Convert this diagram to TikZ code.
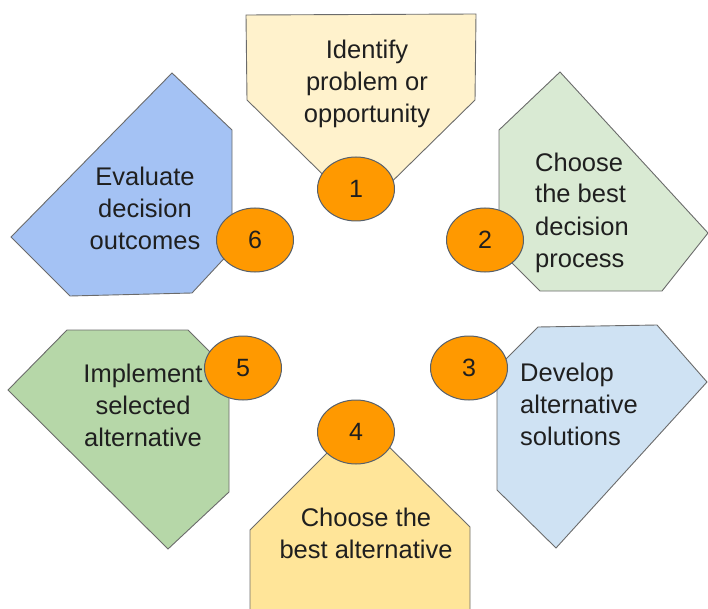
\documentclass[tikz,border=0pt]{standalone}
\usepackage{fontspec}
\setmainfont{Liberation Sans}
\usetikzlibrary{shapes.geometric}
\definecolor{cA}{HTML}{FFF2CC}
\definecolor{cB}{HTML}{D9EAD3}
\definecolor{cC}{HTML}{CFE2F3}
\definecolor{cD}{HTML}{FFE599}
\definecolor{cE}{HTML}{B6D7A8}
\definecolor{cF}{HTML}{A4C2F4}
\definecolor{orng}{HTML}{FF9900}
\definecolor{edge}{HTML}{6B6B6B}
\definecolor{cedge}{HTML}{56606C}
\definecolor{ink}{HTML}{1F1F1F}
\tikzset{
  panel/.style={draw=edge, line width=0.9pt, line join=miter},
  badge/.style={ellipse, draw=cedge, line width=1pt, fill=orng, minimum width=77pt, minimum height=64pt, inner sep=0pt, text=ink, font=\fontsize{25}{30}\selectfont},
  lbl/.style={inner sep=0pt, text=ink, font=\fontsize{25.5}{32}\selectfont}
}
\begin{document}
\begin{tikzpicture}[x=1pt,y=-1pt]
\useasboundingbox (0,0) rectangle (708,609);
% panels
\draw[panel, fill=cA] (246,15) -- (476,14) -- (475,100) -- (361,212) -- (247,100) -- cycle;
\draw[panel, fill=cB] (560,72) -- (708,233) -- (662,291) -- (540,291) -- (499,250) -- (499,130) -- cycle;
\draw[panel, fill=cC] (538,327) -- (657,325) -- (707,382) -- (556,548) -- (497,490) -- (497,368) -- cycle;
\draw[panel, fill=cD] (361,419) -- (470,527) -- (470,625) -- (250,625) -- (250,530) -- cycle;
\draw[panel, fill=cE] (67,330) -- (188,330) -- (229,371) -- (229,492) -- (168,549) -- (8,390) -- cycle;
\draw[panel, fill=cF] (172,73) -- (232,130) -- (232,250) -- (192,293) -- (70,296) -- (11,237) -- cycle;
% texts (base anchor = baseline of the last line)
\node[lbl, align=center, anchor=base] (t1) at (367,123) {Identify\\problem or\\opportunity};
\node[lbl, align=left, anchor=base west] (t2) at (535,267) {Choose\\the best\\decision\\process};
\node[lbl, align=left, anchor=base west] (t3) at (520,445) {Develop\\alternative\\solutions};
\node[lbl, align=center, anchor=base] (t4) at (366,558) {Choose the\\best alternative};
\node[lbl, align=center, anchor=base] (t5) at (143,446) {Implement\\selected\\alternative};
\node[lbl, align=center, anchor=base] (t6) at (145,250) {Evaluate\\decision\\outcomes};
% badges
\node[badge] (b1) at (356,189) {1};
\node[badge] (b2) at (485,240) {2};
\node[badge] (b3) at (469,368) {3};
\node[badge] (b4) at (356,432) {4};
\node[badge] (b5) at (243,368) {5};
\node[badge] (b6) at (255,240) {6};
\end{tikzpicture}
\end{document}
